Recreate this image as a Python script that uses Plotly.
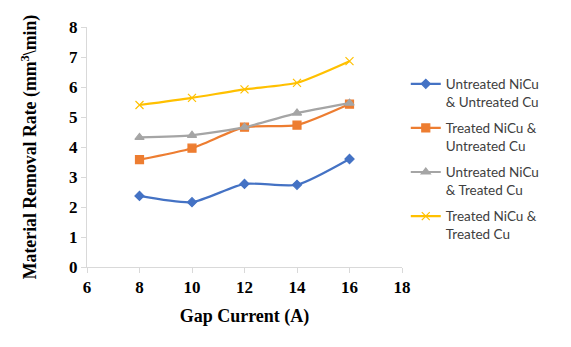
import plotly.graph_objects as go

gap_current = [8, 10, 12, 14, 16]
untreated_nicu_untreated_cu = [2.37, 2.16, 2.77, 2.74, 3.60]
treated_nicu_untreated_cu = [3.58, 3.96, 4.66, 4.73, 5.43]
untreated_nicu_treated_cu = [4.32, 4.39, 4.66, 5.13, 5.46]
treated_nicu_treated_cu = [5.40, 5.64, 5.92, 6.14, 6.86]

series = [
    ("Untreated NiCu<br>& Untreated Cu", untreated_nicu_untreated_cu, "#4472C4", "diamond", 7),
    ("Treated NiCu &<br>Untreated Cu", treated_nicu_untreated_cu, "#ED7D31", "square", 8),
    ("Untreated NiCu<br>& Treated Cu", untreated_nicu_treated_cu, "#A5A5A5", "triangle-up", 8),
    ("Treated NiCu &<br>Treated Cu", treated_nicu_treated_cu, "#FFC000", "x-thin", 8),
]

fig = go.Figure()
for i, (name, vals, color, sym, size) in enumerate(series):
    fig.add_trace(go.Scatter(
        x=gap_current, y=vals, name=name, mode="lines+markers",
        line=dict(color=color, width=2.2, shape="spline", smoothing=0.6),
        marker=dict(symbol=sym, size=size, color=color,
                    line=dict(color=color, width=1.2)),
        legendgroup=f"g{i}",
    ))

tick_font = dict(family="Liberation Serif", size=17, color="#000000")
fig.update_layout(
    width=563, height=339,
    margin=dict(l=79, r=169, t=19, b=80),
    paper_bgcolor="white", plot_bgcolor="white",
    showlegend=True,
    legend=dict(x=1.012, y=0.827, xanchor="left", yanchor="top",
                font=dict(family="Lato", size=13.5, color="#404040"),
                traceorder="grouped", tracegroupgap=6, valign="top",
                itemwidth=30, bgcolor="rgba(0,0,0,0)"),
    xaxis=dict(range=[6, 18], dtick=2, showline=True, linecolor="#D9D9D9",
               linewidth=1, ticks="outside", tickcolor="#D9D9D9", ticklen=5,
               showgrid=False, zeroline=False, automargin=False,
               tickfont=tick_font,
               title=dict(text="<b>Gap Current (A)</b>",
                          font=dict(family="Liberation Serif", size=18, color="#000000"),
                          standoff=12)),
    yaxis=dict(range=[0, 8], dtick=1, showline=True, linecolor="#D9D9D9",
               linewidth=1, ticks="outside", tickcolor="#D9D9D9", ticklen=5,
               showgrid=False, zeroline=False, automargin=False,
               tickfont=tick_font,
               title=dict(text="<b>Material Removal Rate (mm<sup>3</sup>\\min)</b>",
                          font=dict(family="Liberation Serif", size=17.8, color="#000000"),
                          standoff=27)),
)
fig.update_xaxes(tickprefix="<b>", ticksuffix="</b>")
fig.update_yaxes(tickprefix="<b>", ticksuffix="</b>")

fig.write_html("out.html")
